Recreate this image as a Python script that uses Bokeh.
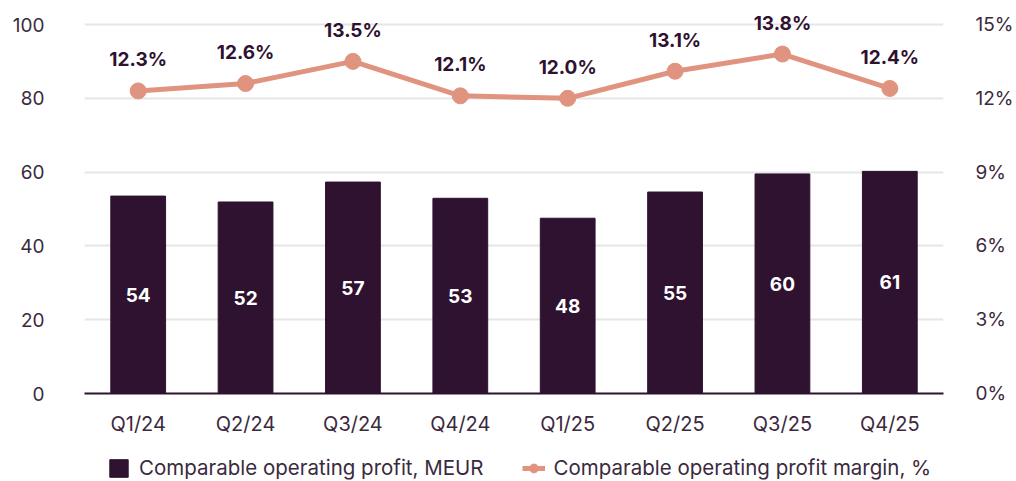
from bokeh.plotting import figure
from bokeh.layouts import column
from bokeh.models import (Range1d, LinearAxis, FixedTicker, PrintfTickFormatter,
                          ColumnDataSource, Legend, LegendItem)
from bokeh.core.properties import value
from bokeh.embed import file_html
from bokeh.resources import INLINE

categories = ["Q1/24", "Q2/24", "Q3/24", "Q4/24", "Q1/25", "Q2/25", "Q3/25", "Q4/25"]
profit = [53.5, 51.9, 57.3, 52.9, 47.5, 54.6, 59.5, 60.2]
profit_labels = ["54", "52", "57", "53", "48", "55", "60", "61"]
margin = [12.3, 12.6, 13.5, 12.1, 12.0, 13.1, 13.8, 12.4]
margin_labels = ["12.3%", "12.6%", "13.5%", "12.1%", "12.0%", "13.1%", "13.8%", "12.4%"]
legend_labels = ["Comparable operating profit, MEUR", "Comparable operating profit margin, %"]

BAR = "#2e1230"
LINE = "#e0937e"
TXT = "#3b2a3d"
FONT = "Inter"
FS = "19px"

# frame spans from the top of the canvas so labels above the 100 line are not clipped
TOP_PAD = 24 / 369.0  # fraction of the 0-100 span that lies above the 100 gridline
Y_MAX = 100 * (1 + TOP_PAD)
P_MAX = 15 * (1 + TOP_PAD)

src = ColumnDataSource(dict(
    cat=categories, profit=profit, half=[v / 2 for v in profit], plab=profit_labels,
    margin=margin, mlab=margin_labels))

p = figure(width=1016, height=440, x_range=categories, y_range=Range1d(0, Y_MAX),
           output_backend="svg", toolbar_location=None,
           min_border_left=84, min_border_right=68, min_border_top=0, min_border_bottom=47)
p.outline_line_color = None
p.x_range.range_padding = 0
p.extra_y_ranges = {"pct": Range1d(0, P_MAX)}

p.vbar(x="cat", top="profit", width=0.51, source=src, color=BAR)
p.text(x="cat", y="half", text="plab", source=src, text_color="white",
       text_font=value(FONT), text_font_style="bold", text_font_size=FS,
       text_align="center", text_baseline="middle")

p.line(x="cat", y="margin", source=src, y_range_name="pct", line_color=LINE, line_width=5)
p.scatter(x="cat", y="margin", source=src, y_range_name="pct", size=16,
          fill_color=LINE, line_color=LINE)
p.text(x="cat", y="margin", text="mlab", source=src, y_range_name="pct", y_offset=-31,
       text_color=BAR, text_font=value(FONT), text_font_style="bold", text_font_size=FS,
       text_align="center", text_baseline="middle")

# axes
ya = p.yaxis[0]
ya.ticker = FixedTicker(ticks=[0, 20, 40, 60, 80, 100])
ya.axis_line_color = None
ya.major_tick_line_color = None
ya.minor_tick_line_color = None
ya.major_label_standoff = 34
ya.major_label_text_font = FONT
ya.major_label_text_font_size = FS
ya.major_label_text_color = TXT

ra = LinearAxis(y_range_name="pct", ticker=FixedTicker(ticks=[0, 3, 6, 9, 12, 15]),
                formatter=PrintfTickFormatter(format="%d%%"))
ra.axis_line_color = None
ra.major_tick_line_color = None
ra.minor_tick_line_color = None
ra.major_label_standoff = 26
ra.major_label_text_font = FONT
ra.major_label_text_font_size = FS
ra.major_label_text_color = TXT
p.add_layout(ra, "right")

xa = p.xaxis[0]
xa.axis_line_color = BAR
xa.axis_line_width = 2
xa.major_tick_line_color = None
xa.minor_tick_line_color = None
xa.major_label_standoff = 12
xa.major_label_text_font = FONT
xa.major_label_text_font_size = "20px"
xa.major_label_text_color = TXT

p.xgrid.grid_line_color = None
p.ygrid.grid_line_color = "#e6e6e6"
p.ygrid.grid_line_width = 2

# legend strip (its frame is aligned with the main plot's frame by the column layout)
lg = figure(width=1016, height=41, x_range=Range1d(0, 1), y_range=Range1d(0, 1),
            output_backend="svg", toolbar_location=None,
            x_axis_location=None, y_axis_location=None,
            min_border_left=0, min_border_right=0, min_border_top=0, min_border_bottom=0)
lg.grid.visible = False
lg.outline_line_color = None
dummy = ColumnDataSource(dict(x=[-10], y=[-10], top=[-10]))
r_bar = lg.vbar(x="x", top="top", width=0.5, source=dummy, color=BAR)
r_line = lg.line(x="x", y="y", source=dummy, line_color=LINE, line_width=5)
r_pts = lg.scatter(x="x", y="y", source=dummy, size=16, fill_color=LINE, line_color=LINE)

legend = Legend(items=[
    LegendItem(label=legend_labels[0], renderers=[r_bar]),
    LegendItem(label=legend_labels[1], renderers=[r_line, r_pts]),
], location=(23, 1), orientation="horizontal", padding=0, margin=0, spacing=38,
    glyph_width=23, glyph_height=22, label_standoff=9,
    label_text_font=FONT, label_text_font_size="20.5px", label_text_color=TXT,
    border_line_color=None, background_fill_alpha=0)
lg.add_layout(legend, "center")

open("out.html", "w").write(file_html(column(p, lg, spacing=0), INLINE))
